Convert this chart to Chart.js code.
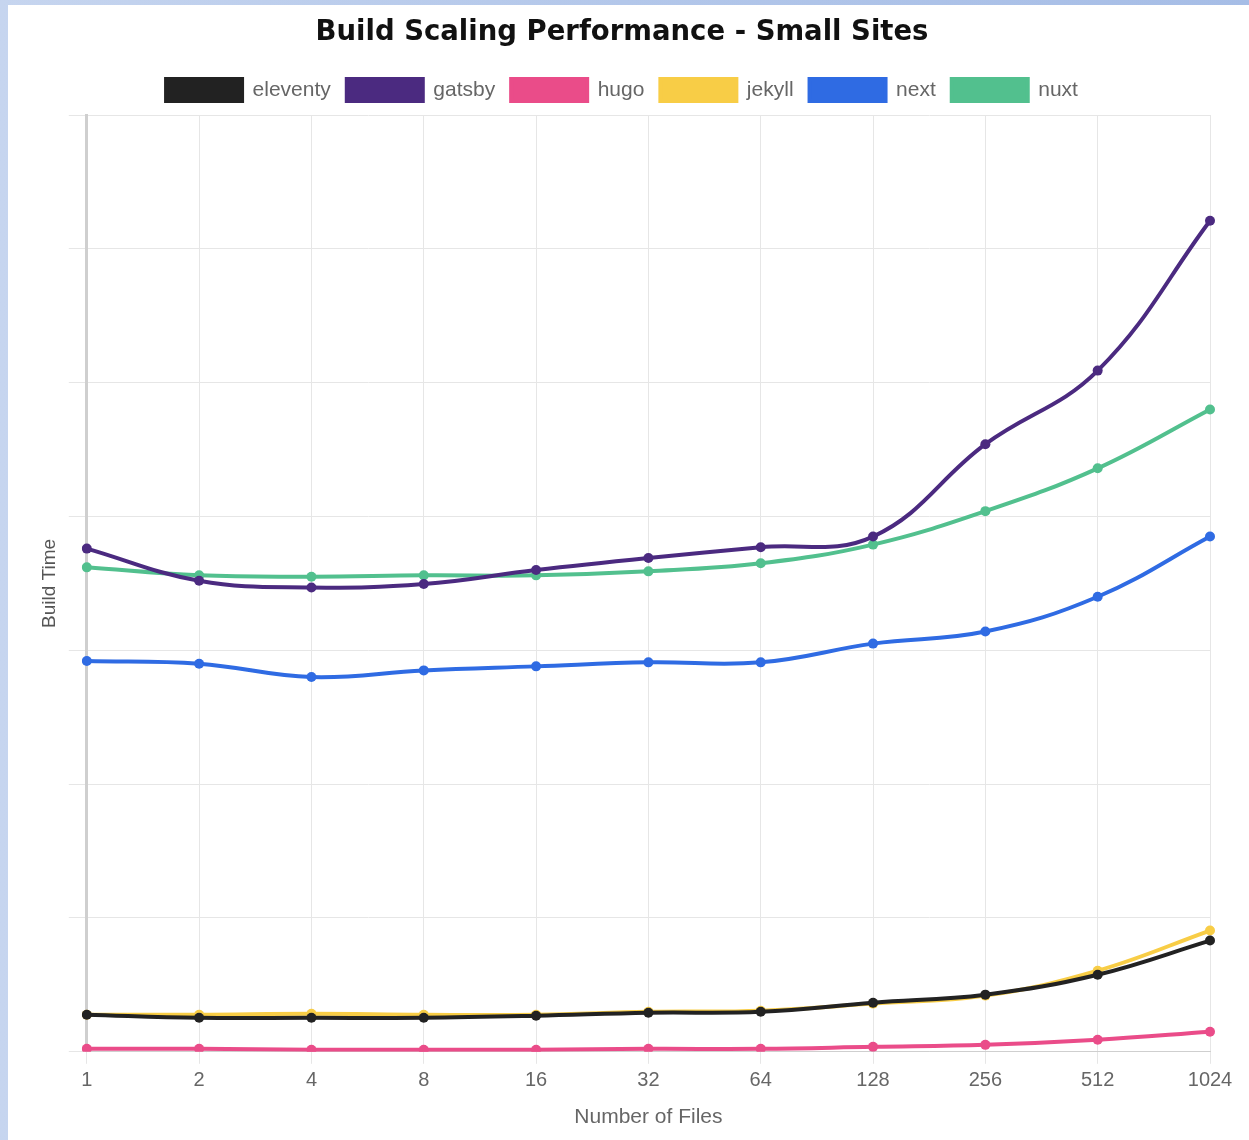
<!DOCTYPE html>
<html>
<head>
<meta charset="utf-8">
<script src="https://cdn.jsdelivr.net/npm/chart.js@4/dist/chart.umd.min.js"></script>
<style>
  html, body { margin: 0; padding: 0; }
  body {
    width: 1249px; height: 1140px; overflow: hidden;
    background: linear-gradient(90deg, #c6d5ef 0%, #b3c7ea 50%, #a6bde6 100%);
  }
  #panel {
    position: absolute; left: 8px; top: 5px; width: 1241px; height: 1135px;
    background: #fff;
  }
</style>
</head>
<body>
<div id="panel"><canvas id="myChart" width="1241" height="1135"></canvas></div>
<script>
const fileCounts = ["1", "2", "4", "8", "16", "32", "64", "128", "256", "512", "1024"];

const eleventy = [2.77, 2.54, 2.54, 2.54, 2.69, 2.92, 2.99, 3.67, 4.27, 5.76, 8.31];
const gatsby   = [37.6, 35.2, 34.7, 34.95, 36.0, 36.9, 37.7, 38.5, 45.4, 50.9, 62.1];
const hugo     = [0.22, 0.22, 0.15, 0.15, 0.15, 0.22, 0.22, 0.37, 0.52, 0.9, 1.5];
const jekyll   = [2.77, 2.77, 2.84, 2.77, 2.77, 2.99, 3.07, 3.6, 4.2, 6.06, 9.06];
const next     = [29.2, 29.0, 28.0, 28.5, 28.8, 29.1, 29.1, 30.5, 31.4, 34.0, 38.5];
const nuxt     = [36.2, 35.6, 35.5, 35.6, 35.6, 35.9, 36.5, 37.9, 40.4, 43.6, 48.0];

const seriesNames = ["eleventy", "gatsby", "hugo", "jekyll", "next", "nuxt"];
const seriesValues = [eleventy, gatsby, hugo, jekyll, next, nuxt];
const lineColors = ["#222222", "#4b2a80", "#ea4c89", "#f8cd46", "#2f6be3", "#52c08e"];

const datasets = seriesNames.map((name, i) => ({
  label: name,
  data: seriesValues[i],
  borderColor: lineColors[i],
  backgroundColor: lineColors[i],
  borderWidth: 4,
  pointRadius: 5,
  pointBorderWidth: 0,
  tension: 0.4,
  fill: false
}));

// a bit more room under the legend
const legendGap = {
  id: "legendGap",
  beforeInit(chart) {
    const fit = chart.legend.fit;
    chart.legend.fit = function () {
      fit.bind(chart.legend)();
      this.height += 4;
    };
  }
};

new Chart("myChart", {
  type: "line",
  data: {
    labels: fileCounts,
    datasets: datasets
  },
  plugins: [legendGap],
  options: {
    responsive: false,
    animation: false,
    layout: { padding: { left: 26, right: 39, top: 9, bottom: 6 } },
    plugins: {
      title: {
        display: true,
        text: "Build Scaling Performance - Small Sites",
        color: "#111",
        font: { family: "DejaVu Sans", size: 27.5, weight: "bold" },
        padding: { top: 2, bottom: 14 }
      },
      legend: {
        labels: {
          boxWidth: 76,
          boxHeight: 22,
          color: "#666",
          padding: 16,
          font: { family: "Liberation Sans", size: 21 }
        }
      },
      tooltip: { enabled: false }
    },
    scales: {
      x: {
        offset: false,
        grid: { color: "#e6e6e6", tickLength: 12 },
        border: { color: "#cfcfcf", width: 1 },
        ticks: { color: "#666", font: { family: "Liberation Sans", size: 20 }, padding: 5 },
        title: {
          display: true,
          text: "Number of Files",
          color: "#666",
          font: { family: "Liberation Sans", size: 21 },
          padding: { top: 7 }
        }
      },
      y: {
        min: 0,
        max: 70,
        grid: { color: "#e6e6e6", tickLength: 18 },
        border: { color: "#cfcfcf", width: 3 },
        ticks: { display: false, stepSize: 10 },
        title: {
          display: true,
          text: "Build Time",
          color: "#555",
          font: { family: "Liberation Sans", size: 19 },
          padding: { bottom: 8 }
        }
      }
    }
  }
});
</script>
</body>
</html>
